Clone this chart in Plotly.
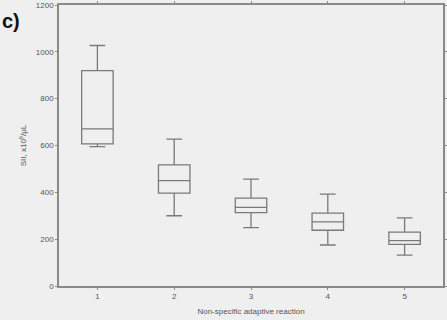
import plotly.graph_objects as go

categories = [1, 2, 3, 4, 5]
lower_whisker = [595, 300, 249, 175, 132]
q1_values = [607, 397, 313, 238, 178]
medians = [671, 450, 336, 274, 194]
q3_values = [920, 517, 375, 311, 230]
upper_whisker = [1027, 627, 456, 392, 291]
y_ticks = [0, 200, 400, 600, 800, 1000, 1200]

line_col = "#7a7a7a"
bg = "#efefef"

fig = go.Figure()
fig.add_trace(go.Box(
    x=categories,
    q1=q1_values, median=medians, q3=q3_values,
    lowerfence=lower_whisker, upperfence=upper_whisker,
    fillcolor="rgba(0,0,0,0)",
    line=dict(color=line_col, width=1.3),
    width=0.41, whiskerwidth=0.5,
    boxpoints=False, showlegend=False,
))

axis_font = dict(family="Liberation Sans, Arial, sans-serif", size=8, color="#555555")
fig.update_layout(
    width=447, height=320,
    margin=dict(l=59, r=4, t=5, b=34),
    paper_bgcolor=bg, plot_bgcolor=bg,
    xaxis=dict(range=[0.5, 5.5], tickvals=categories, ticktext=[str(c) for c in categories],
               showgrid=False, zeroline=False, showline=True, linecolor="#8a8a8a", linewidth=1.5,
               mirror="ticks", ticks="outside", ticklen=2, tickcolor="#8a8a8a",
               tickfont=axis_font, automargin=False,
               title=dict(text="Non-specific adaptive reaction", font=axis_font, standoff=8)),
    yaxis=dict(range=[0, 1200], tickvals=y_ticks, ticktext=[str(t) for t in y_ticks],
               showgrid=False, zeroline=False, showline=True, linecolor="#8a8a8a", linewidth=1.5,
               mirror="ticks", ticks="outside", ticklen=2, tickcolor="#8a8a8a",
               tickfont=axis_font, automargin=False,
               title=dict(text="SII, x10<sup>9</sup>/μL", font=axis_font, standoff=8)),
)
fig.add_annotation(text="<b>c)</b>", xref="paper", yref="paper", x=-59/384, y=0.99,
                   xanchor="left", yanchor="top", showarrow=False,
                   font=dict(family="Liberation Sans, Arial, sans-serif", size=20, color="#111111"))
fig.write_html("out.html", config={"displayModeBar": False},
               post_script="document.body.style.margin='0';document.body.style.background='#efefef';")
